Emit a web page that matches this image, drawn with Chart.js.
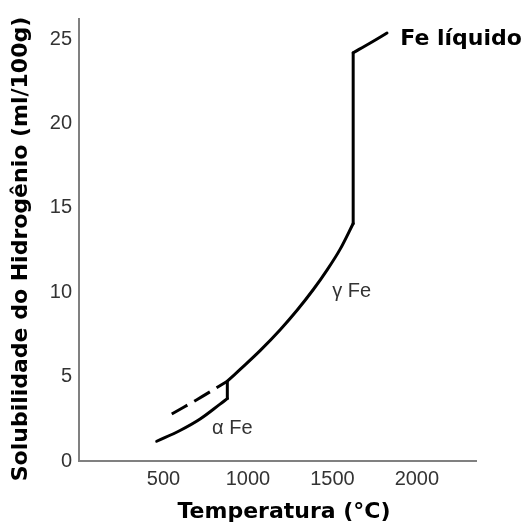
<!DOCTYPE html>
<html>
<head>
<meta charset="utf-8">
<script src="https://cdn.jsdelivr.net/npm/chart.js@4"></script>
<style>
  body { margin: 0; background: #fff; }
  #wrap { width: 525px; height: 525px; }
</style>
</head>
<body>
<div id="wrap"><canvas id="chart" width="525" height="525"></canvas></div>
<script>
// Hydrogen solubility in iron (ml/100g) against temperature (°C)
const alphaTemp = [460, 598, 717, 835, 878]
const alphaSol = [1.17, 1.81, 2.49, 3.37, 3.7]

// gamma curve carried back below the transition (dashed)
const gammaExtTemp = [549, 700, 878]
const gammaExtSol = [2.79, 3.65, 4.73]

const gammaTemp = [878, 954, 1072, 1191, 1292, 1386, 1469, 1546, 1623]
const gammaSol = [4.73, 5.43, 6.54, 7.78, 8.95, 10.15, 11.33, 12.56, 14.08]

const liquidTemp = [1623, 1724, 1823]
const liquidSol = [24.2, 24.78, 25.37]

const xTicks = [500, 1000, 1500, 2000]
const yTicks = [0, 5, 10, 15, 20, 25]

function toPoints(xs, ys) {
  return xs.map((x, i) => ({ x: x, y: ys[i] }))
}

const alphaPts = toPoints(alphaTemp, alphaSol)
const gammaPts = toPoints(gammaTemp, gammaSol)
const liquidPts = toPoints(liquidTemp, liquidSol)

// vertical steps at the phase changes
const alphaGammaStep = [alphaPts[alphaPts.length - 1], gammaPts[0]]
const meltStep = [gammaPts[gammaPts.length - 1], liquidPts[0]]

const solid = {
  borderColor: "#000",
  borderWidth: 3,
  pointRadius: 0,
  fill: false,
  tension: 0,
  borderCapStyle: "round",
  borderJoinStyle: "round",
}

const xTitle = "Temperatura (°C)"
const yTitle = "Solubilidade do Hidrogênio (ml/100g)"

// text placed next to the curves, in data units
const curveLabels = [
  { text: "α Fe", x: 788, y: 1.93, font: "20px 'Liberation Sans'", color: "#333" },
  { text: "γ Fe", x: 1499, y: 10.05, font: "20px 'Liberation Sans'", color: "#333" },
  { text: "Fe líquido", x: 1902, y: 25.0, font: "bold 22px 'DejaVu Sans'", color: "#000" },
]

const labelPlugin = {
  id: "curveLabels",
  afterDatasetsDraw(chart) {
    const { ctx, scales } = chart
    ctx.save()
    ctx.textAlign = "left"
    ctx.textBaseline = "middle"
    curveLabels.forEach(function (l) {
      ctx.font = l.font
      ctx.fillStyle = l.color
      ctx.fillText(l.text, scales.x.getPixelForValue(l.x), scales.y.getPixelForValue(l.y))
    })
    // axis titles
    ctx.textAlign = "center"
    ctx.font = "bold 22px 'DejaVu Sans'"
    ctx.fillStyle = "#000"
    ctx.fillText(xTitle, 284, 512)
    ctx.translate(21, 249)
    ctx.rotate(-Math.PI / 2)
    ctx.fillText(yTitle, 0, 0)
    ctx.restore()
  },
}

const tickFont = { family: "'Liberation Sans'", size: 20 }

new Chart(document.getElementById("chart"), {
  type: "line",
  data: {
    datasets: [
      { ...solid, data: alphaPts, tension: 0.35 },
      {
        ...solid,
        data: toPoints(gammaExtTemp, gammaExtSol),
        tension: 0.35,
        borderDash: [18, 8],
        borderCapStyle: "butt",
      },
      { ...solid, data: alphaGammaStep },
      { ...solid, data: gammaPts, tension: 0.35 },
      { ...solid, data: meltStep },
      { ...solid, data: liquidPts, tension: 0.35 },
    ],
  },
  options: {
    responsive: false,
    animation: false,
    layout: { padding: { top: 12, right: 49, left: 0, bottom: 0 } },
    plugins: { legend: { display: false }, tooltip: { enabled: false } },
    scales: {
      x: {
        type: "linear",
        min: 0,
        max: 2350,
        grid: { display: false, drawTicks: false },
        border: { display: true, color: "#808080", width: 2 },
        afterBuildTicks: (scale) => { scale.ticks = xTicks.map((v) => ({ value: v })) },
        afterFit: (scale) => { scale.height = 64 },
        ticks: { font: tickFont, color: "#333", padding: 6, maxRotation: 0, callback: (v) => String(v) },
      },
      y: {
        type: "linear",
        min: 0,
        max: 26.2,
        grid: { display: false, drawTicks: false },
        border: { display: true, color: "#808080", width: 2 },
        afterBuildTicks: (scale) => { scale.ticks = yTicks.map((v) => ({ value: v })) },
        afterFit: (scale) => { scale.width = 79 },
        ticks: { font: tickFont, color: "#333", padding: 7, callback: (v) => String(v) },
      },
    },
  },
  plugins: [labelPlugin],
})
</script>
</body>
</html>
